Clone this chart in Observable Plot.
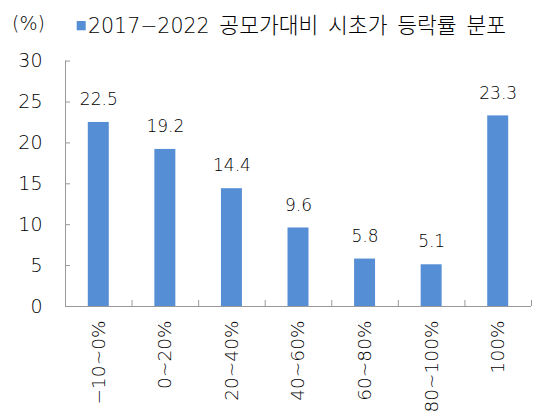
<!DOCTYPE html>
<html><head><meta charset="utf-8">
<script src="https://cdn.jsdelivr.net/npm/d3@7"></script>
<script src="https://cdn.jsdelivr.net/npm/@observablehq/plot@0.6"></script>
<style>
body{margin:0;background:#fff;}
#wrap{position:relative;width:536px;height:416px;}
#head{position:absolute;left:0;top:0;}
#chart{position:absolute;left:0;top:0;}
#chart text, #head text{font-weight:300;}
</style></head>
<body><div id="wrap"><div id="chart"></div><svg id="head" width="536" height="50"></svg></div>
<script>
const categories = ["−10~0%","0~20%","20~40%","40~60%","60~80%","80~100%","100%"];
const values = [22.5,19.2,14.4,9.6,5.8,5.1,23.3];
const yTicks = [0,5,10,15,20,25,30];
const seriesName = "2017−2022 공모가대비 시초가 등락률 분포";
const unitLabel = "(%)";
const barColor = "#558ED5";
const textColor = "#000";
const font = "'DejaVu Sans','Noto Sans CJK KR',sans-serif";

const data = categories.map((c,i)=>({c, i, v: values[i]}));

const chart = Plot.plot({
  width: 536, height: 416,
  marginTop: 60.6, marginBottom: 110, marginLeft: 65, marginRight: 5,
  style: {fontFamily: font, color: textColor, background: "transparent"},
  x: {type: "linear", domain: [0, categories.length], label: null},
  y: {domain: [0, 30], label: null},
  marks: [
    Plot.rectY(data, {x1: "i", x2: d => d.i + 1, y: "v", fill: barColor, insetLeft: 22.8, insetRight: 22.8}),
    Plot.text(data, {x: d => d.i + 0.5, y: "v", text: d => d.v.toFixed(1), lineAnchor: "bottom", dy: -17.4, fontSize: 17, fill: textColor}),
    Plot.axisY({ticks: yTicks, tickSize: -5, tickPadding: 28, fontSize: 19, stroke: "#999", fill: textColor, tickFormat: d => String(d), label: null}),
    Plot.axisX({ticks: d3.range(categories.length + 1), tickFormat: () => "", tickSize: -6, stroke: "#999", label: null}),
    Plot.axisX({ticks: categories.map((c,i) => i + 0.5), tickFormat: d => categories[Math.floor(d)], tickSize: 0, tickPadding: 14, tickRotate: -90, fontSize: 18.5, fill: textColor, label: null}),
    Plot.ruleX([0], {stroke: "#999"}),
    Plot.ruleY([0], {stroke: "#999"})
  ]
});
document.getElementById("chart").appendChild(chart);

// header: unit label + legend
const head = d3.select("#head");
head.append("text").attr("x", 12).attr("y", 29.8).attr("font-size", 19)
  .attr("font-family", font).attr("fill", textColor).text(unitLabel);
head.append("rect").attr("x", 76.7).attr("y", 21).attr("width", 9).attr("height", 9.3).attr("fill", barColor);
const sp = seriesName.indexOf(" ");
const lt = head.append("text").attr("x", 88).attr("y", 32.7)
  .attr("font-family", font).attr("fill", textColor);
lt.append("tspan").attr("font-size", 20.5).text(seriesName.slice(0, sp));
lt.append("tspan").attr("font-size", 21.5).attr("word-spacing", 3).text(seriesName.slice(sp));
</script>
</body></html>
